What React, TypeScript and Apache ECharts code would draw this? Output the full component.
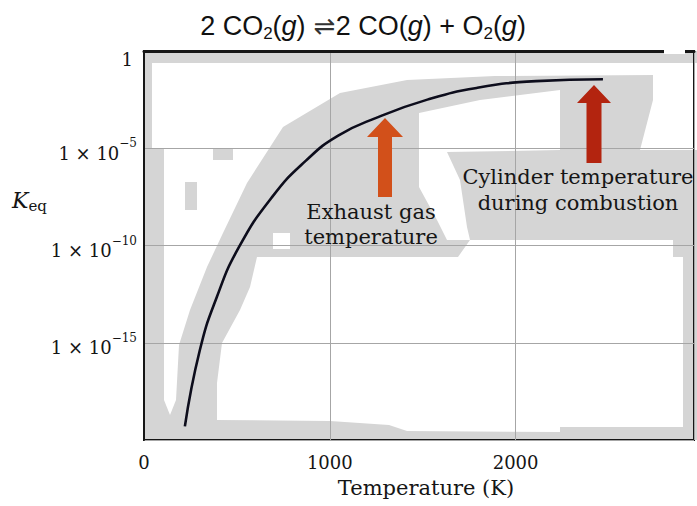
import React, { useEffect, useRef } from 'react';
import * as echarts from 'echarts';

// Curve: temperature (K) and log10 of Keq
const temperatureK = [220, 300, 390, 510, 690, 870, 1045, 1260, 1525, 1790, 2110, 2470];
const log10Keq = [-19.3, -15.4, -12.7, -10.1, -7.5, -5.65, -4.35, -3.4, -2.5, -1.9, -1.55, -1.45];

const xTickLabels = [0, 1000, 2000];
const yTickExponents = [0, -5, -10, -15];

const SERIF = 'DejaVu Serif';
const SANS = 'Liberation Sans';
const GRAY = '#d5d5d5';

const whitePatches: number[][][] = [
  [[152, 63], [697, 63], [697, 150], [640, 150], [653, 100], [653, 75], [495, 76], [407, 80], [340, 93], [283, 127], [247, 183], [223, 233], [207, 267], [190, 310], [179, 345], [176, 400], [170, 415], [164, 400], [164, 148], [152, 148]],
  [[419, 113], [480, 100], [560, 90], [560, 150], [447, 152], [460, 180], [467, 227], [470, 240], [447, 240], [437, 220], [419, 187]],
  [[257, 257], [458, 257], [470, 240], [673, 240], [673, 257], [683, 257], [683, 427], [560, 427], [560, 432], [407, 431], [389, 425], [330, 421], [217, 420], [217, 383], [222, 343], [240, 310], [250, 287]],
];

function arrowPoints(cx: number, tipY: number, headY: number, headHalf: number, shaftHalf: number, bottomY: number) {
  return [
    [cx, tipY], [cx + headHalf, headY], [cx + shaftHalf, headY], [cx + shaftHalf, bottomY],
    [cx - shaftHalf, bottomY], [cx - shaftHalf, headY], [cx - headHalf, headY],
  ];
}

export default function App() {
  const ref = useRef<HTMLDivElement>(null);
  useEffect(() => {
    const chart = echarts.init(ref.current!, null, { renderer: 'svg' });
    const data = temperatureK.map((t, i) => [t, log10Keq[i]]);

    const graphics: any[] = [
      { type: 'rect', z: -10, shape: { x: 144, y: 51, width: 555, height: 389 }, style: { fill: GRAY }, silent: true },
      ...whitePatches.map((pts) => ({ type: 'polygon', z: -9, shape: { points: pts }, style: { fill: '#ffffff' }, silent: true })),
      { type: 'rect', z: -8, shape: { x: 185, y: 182, width: 12, height: 28 }, style: { fill: GRAY }, silent: true },
      { type: 'rect', z: -8, shape: { x: 213, y: 148, width: 20, height: 12 }, style: { fill: GRAY }, silent: true },
      { type: 'rect', z: -8, shape: { x: 273, y: 233, width: 17, height: 16 }, style: { fill: '#ffffff' }, silent: true },
      { type: 'polygon', z: 5, shape: { points: arrowPoints(385, 118, 137, 18, 7, 197) }, style: { fill: '#d2501a' }, silent: true },
      { type: 'polygon', z: 5, shape: { points: arrowPoints(594, 85, 103, 17, 7.5, 163) }, style: { fill: '#b3240f' }, silent: true },
      { type: 'rect', z: 20, shape: { x: 664, y: 48, width: 21, height: 6 }, style: { fill: '#ffffff' }, silent: true },
      {
        type: 'text', z: 6, x: 371, y: 224,
        style: { text: 'Exhaust gas\ntemperature', fontSize: 21, fontFamily: SERIF, lineHeight: 25, fill: '#151515', align: 'center', verticalAlign: 'middle' },
      },
      {
        type: 'text', z: 6, x: 578, y: 190,
        style: { text: 'Cylinder temperature\nduring combustion', fontSize: 21, fontFamily: SERIF, lineHeight: 26, fill: '#151515', align: 'center', verticalAlign: 'middle' },
      },
      {
        type: 'text', z: 6, x: 12, y: 200,
        style: {
          text: '{k|K}{s|eq}', align: 'left', verticalAlign: 'middle',
          rich: {
            k: { fontSize: 22, fontStyle: 'italic', fontFamily: SERIF, lineHeight: 26, fill: '#151515', color: '#151515' },
            s: { fontSize: 15, fontFamily: SERIF, lineHeight: 16, verticalAlign: 'bottom', fill: '#151515', color: '#151515' },
          },
        },
      },
    ];

    chart.setOption({
      animation: false,
      backgroundColor: '#ffffff',
      title: {
        text: '{n|2 CO}{sub|2}{n|(}{i|g}{n|)}{arr| ⇌}{n|2 CO(}{i|g}{n|) + O}{sub|2}{n|(}{i|g}{n|)}',
        left: 358,
        top: 5,
        textAlign: 'center',
        textStyle: {
          fontWeight: 'normal',
          rich: {
            n: { fontSize: 27, fontWeight: 'normal', fontFamily: SANS, color: '#111', lineHeight: 32 },
            i: { fontSize: 27, fontWeight: 'normal', fontFamily: SANS, fontStyle: 'italic', color: '#111', lineHeight: 32 },
            sub: { fontSize: 17, fontWeight: 'normal', fontFamily: SANS, color: '#111', lineHeight: 17, verticalAlign: 'bottom' },
            arr: { fontSize: 26, fontWeight: 'normal', fontFamily: 'DejaVu Sans', color: '#333', lineHeight: 32 },
          },
        },
      },
      grid: { left: 144, top: 51, right: -2, bottom: 66, show: true, borderColor: '#161616', borderWidth: 2, backgroundColor: 'transparent' },
      xAxis: {
        type: 'value', min: 0, max: 2960, interval: 1000,
        name: 'Temperature (K)', nameLocation: 'middle', nameGap: 37,
        nameTextStyle: { fontSize: 21, fontFamily: SERIF, color: '#151515', padding: [0, 0, 0, 14] },
        axisLine: { show: true, lineStyle: { color: '#161616', width: 3 } },
        axisTick: { show: false },
        axisLabel: {
          margin: 13, fontSize: 18, fontFamily: SERIF, color: '#151515',
          formatter: (v: number) => (xTickLabels.includes(v) ? String(v) : ''),
        },
        splitLine: { show: true, lineStyle: { color: '#a6a6a6', width: 1 } },
      },
      yAxis: {
        type: 'value', min: -20, max: 0, interval: 5,
        axisLine: { show: true, lineStyle: { color: '#161616', width: 2 } },
        axisTick: { show: false },
        axisLabel: {
          margin: 7,
          formatter: (v: number) => {
            if (!yTickExponents.includes(v)) return '';
            if (v === 0) return '{one|1}';
            return `{a|1 × 10}{s|−${-v}}`;
          },
          rich: {
            one: { fontSize: 18, fontFamily: SERIF, color: '#151515', lineHeight: 22, padding: [16, 4, 0, 0] },
            a: { fontSize: 18, fontFamily: SERIF, color: '#151515', lineHeight: 22, padding: [10, 0, 0, 0] },
            s: { fontSize: 12, fontFamily: SERIF, color: '#151515', lineHeight: 12, verticalAlign: 'top', padding: [0, 0, 0, 0] },
          },
        },
        splitLine: { show: true, lineStyle: { color: '#a6a6a6', width: 1 } },
      },
      graphic: graphics,
      series: [
        {
          type: 'line',
          data,
          smooth: 0.5,
          showSymbol: false,
          symbol: 'none',
          lineStyle: { color: '#0d0d1c', width: 2.6 },
          z: 4,
        },
      ],
    });
    return () => chart.dispose();
  }, []);
  return <div ref={ref} style={{ position: 'fixed', left: 0, top: 0, width: 697, height: 506, background: '#fff' }} />;
}
